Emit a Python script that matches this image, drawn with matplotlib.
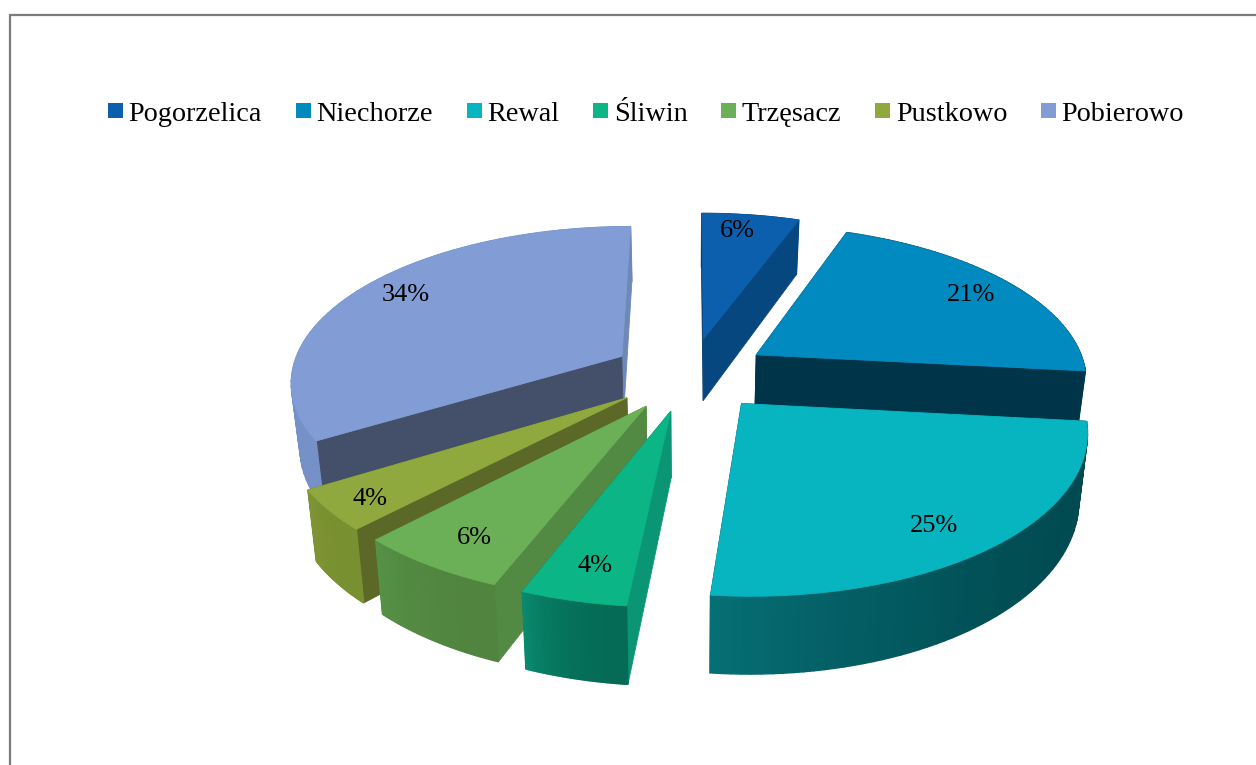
import numpy as np
import matplotlib
matplotlib.use("Agg")
import matplotlib.pyplot as plt
from matplotlib.colors import to_rgb
from matplotlib.patches import Patch

places = ['Pogorzelica', 'Niechorze', 'Rewal', 'Śliwin', 'Trzęsacz', 'Pustkowo', 'Pobierowo']
shares = [5.6, 21.1, 24.9, 4.3, 6.2, 4.1, 33.8]

top_colors = ['#0b5fac', '#008abf', '#07b5c0', '#0bb585', '#6bb056', '#90a93e', '#829dd5']
rim_start = ['#07477f', '#003449', '#004a50', '#056b56', '#51853f', '#78902f', '#7690c8']
rim_end = ['#07477f', '#003449', '#066f75', '#098a6e', '#569146', '#7f9436', '#6d88bc']
cut_start = ['#063a6a', '#003449', '#003449', '#0a9675', '#528a43', '#5b6827', '#445069']
cut_end = ['#07477f', '#003449', '#003449', '#056b56', '#51853f', '#5b6827', '#6f88ba']

# label nudges in pixels
label_dx = [-5, 11, -3, 0, -3, -24, -5]
label_dy = [-6, -1, 10, 8, 8, 13, -6]

# projection of the tilted pie onto the picture, in pixels
cx, cy = 690, 374
rx, ry = 331, 154
persp = 0.15
depth = 64
shrink = 0.022  # the underside is further from the camera
explode = 0.24


def project(u, v, z=0.0):
    d = 1 + persp * v
    return cx + rx * u / d * (1 - shrink * z), cy - ry * v / d + depth * z / d


def wedge_uv(a0, a1, n=60):
    mid = (a0 + a1) / 2
    ox, oy = explode * np.sin(mid), explode * np.cos(mid)
    t = np.linspace(a0, a1, n)
    return ox, oy, ox + np.sin(t), oy + np.cos(t)


def face(ax, us, vs, zs, color, lw=0.6):
    x, y = project(np.array(us), np.array(vs), np.array(zs))
    ax.fill(x, y, color=color, lw=lw)


def mix(c0, c1, t):
    return tuple((1 - t) * a + t * b for a, b in zip(to_rgb(c0), to_rgb(c1)))


def draw_slice(ax, i, a0, a1):
    ox, oy, us, vs = wedge_uv(a0, a1)
    faces = []
    # the two straight cuts
    faces.append(([ox, us[0], us[0], ox], [oy, vs[0], vs[0], oy], cut_start[i], 0.6))
    faces.append(([ox, us[-1], us[-1], ox], [oy, vs[-1], vs[-1], oy], cut_end[i], 0.6))
    # outer wall in thin strips so the shading can run along it
    for j in range(len(us) - 1):
        col = mix(rim_start[i], rim_end[i], (j / (len(us) - 2)) ** 2.5)
        faces.append(([us[j], us[j + 1], us[j + 1], us[j]], [vs[j], vs[j + 1], vs[j + 1], vs[j]], col, 1.0))
    for u, v, col, lw in sorted(faces, key=lambda f: -((f[1][0] + f[1][1]) / 2)):
        face(ax, u, v, [0, 0, 1, 1], col, lw)
    face(ax, np.r_[ox, us], np.r_[oy, vs], np.zeros(len(us) + 1), top_colors[i])


fig = plt.figure(figsize=(12.56, 7.65), dpi=100)
ax = fig.add_axes([0, 0, 1, 1])
ax.set_xlim(0, 1256)
ax.set_ylim(765, 0)
ax.axis('off')
plt.rcParams['font.family'] = ['Liberation Serif', 'DejaVu Serif']

ax.plot([9.5, 9.5, 1256], [765, 15, 15], color='#7b7b7b', lw=1.6, solid_joinstyle='miter')

edges = np.r_[0, np.cumsum(shares)] / sum(shares) * 2 * np.pi
order = sorted(range(len(shares)),
               key=lambda k: -np.cos((edges[k] + edges[k + 1]) / 2))
for i in order:
    draw_slice(ax, i, edges[i], edges[i + 1])

for i, share in enumerate(shares):
    mid = (edges[i] + edges[i + 1]) / 2
    u = (explode + 0.8) * np.sin(mid)
    v = (explode + 0.8) * np.cos(mid)
    x, y = project(u, v)
    ax.text(x + label_dx[i], y + label_dy[i], f'{share:.0f}%', fontsize=19,
            ha='center', va='center', color='black')

handles = [Patch(facecolor=c, edgecolor='none') for c in top_colors]
ax.legend(handles, places, ncol=len(places), loc='center left',
          bbox_to_anchor=(108, 114), bbox_transform=ax.transData,
          frameon=False, fontsize=20.3, borderpad=0, borderaxespad=0,
          handlelength=0.53, handleheight=0.47, handletextpad=0.2,
          columnspacing=1.2)

fig.savefig('out.png', dpi=100)
